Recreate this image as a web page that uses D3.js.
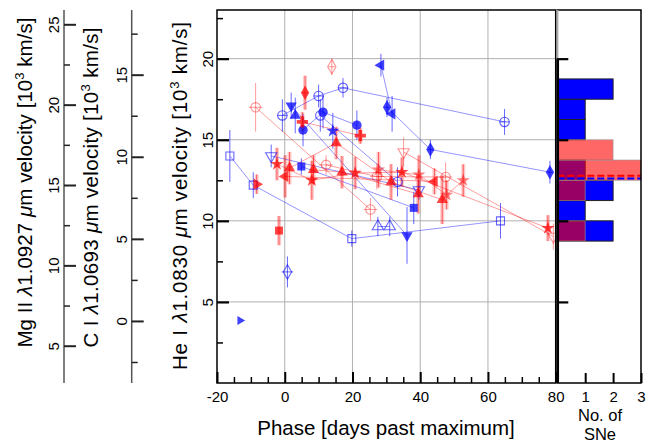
<!DOCTYPE html>
<html>
<head>
<meta charset="utf-8">
<script src="https://cdn.jsdelivr.net/npm/d3@7"></script>
<style>
body { margin: 0; background: #fff; }
text { font-family: "Liberation Sans", Arial, sans-serif; fill: #000; }
</style>
</head>
<body>
<svg id="chart" width="655" height="444"></svg>
<script>
// points are [phase, velocity, velocity error, phase error]
var bSquareOpen   = [[-16.2,14.0,1.6,0],[-9.3,12.2,0.8,0],[19.8,8.9,0.5,0],[63.7,10.0,1.1,0]];
var bCircleCross  = [[-0.7,16.5,1.0,1.5],[10.0,17.7,0.7,1.5],[17.2,18.2,0.6,1.5],[64.9,16.1,0.8,1.5]];
var bTriLeft      = [[28.4,19.6,0.7,0],[31.7,16.6,1.1,0]];
var bDiamond      = [[30.2,17.0,0.6,0.8],[43.0,14.4,0.6,0.8],[78.3,13.0,0.7,0.8]];
var bTriDown      = [[1.9,17.1,0.8,0],[36.1,9.1,1.75,0]];
var bTriUp        = [[3.1,16.5,1.1,0]];
var bCircleOpen   = [[10.5,16.5,1.0,0],[33.3,12.4,0.9,0]];
var bCircle       = [[5.4,15.6,1.0,0],[11.3,16.7,1.0,0],[21.3,15.9,0.9,0]];
var bStar         = [[14.2,15.55,1.1,0]];
var bTriDownOpen  = [[-4.0,14.0,0.7,0],[39.6,11.9,0.6,0]];
var bSquare       = [[4.9,13.35,0.5,0],[38.1,10.8,1.0,0]];
var bTriUpOpen    = [[27.5,9.65,0.6,0],[31.0,9.65,0.6,0]];
var bDiamondOpen  = [[0.8,6.85,0.95,1.7]];
var bTriRight     = [[-13.2,3.85,0,0]];

var rStar         = [[-2.3,13.5,1.0,0],[8.0,12.5,1.2,0],[20.8,12.95,1.0,0],[34.6,13.0,0.9,0],[77.7,9.55,0.8,0]];
var rStar2        = [[27.7,13.15,1.1,0],[39.6,12.84,1.2,0],[47.8,11.6,0.9,0],[52.7,12.49,1.0,0]];
var rTriUp        = [[1.4,13.25,1.0,0],[15.2,14.8,1.0,0],[31.4,12.4,1.1,0],[46.5,11.3,1.5,0]];
var rTriUp2       = [[8.5,13.15,0.9,0],[16.9,13.0,1.0,0],[39.4,11.65,1.2,0]];
var rTriLeft      = [[0.1,12.74,1.3,0],[44.2,12.43,0.8,0]];
var rTriRight     = [[-8.3,12.26,0.6,0]];
var rCircleCross  = [[-8.6,17.0,1.5,2],[25.3,10.7,0.7,2]];
var rCircleOpen   = [[12.2,13.45,0.6,2],[27.2,12.73,0.8,2],[47.5,12.7,0.9,2]];
var rTriDownOpen  = [[35.1,14.24,0.9,0],[79.3,9.03,0.8,0]];
var rSquare       = [[-1.7,9.4,0.9,0]];
var rDiamond      = [[6.0,17.9,1.05,1.0]];
var rDiamondOpen  = [[13.9,19.5,0.5,1.0]];
var rPlus         = [[5.2,16.1,0.6,0],[22.3,15.25,0.5,0]];

// histogram of velocities (bins in 10^3 km/s)
var binEdges   = [8.75,10,11.25,12.5,13.75,15,16.25,17.5,18.75];
var blueCounts = [2,1,2,1,0,1,1,2];
var redCounts  = [1,0,1,3,2,0,0,0];
var blueMean = 12.61, redMean = 12.78;

var phaseTicks = [-20,0,20,40,60,80];
var heTicks = [5,10,15,20];
var cTicks = [0,5,10,15];
var mgTicks = [5,10,15,20,25];
var histTicks = [1,2,3];

var series = [
  {pts: bSquareOpen,  c: "b", sym: "square",  open: true},
  {pts: bCircleCross, c: "b", sym: "circle",  open: true},
  {pts: bTriLeft,     c: "b", sym: "triLeft"},
  {pts: bDiamond,     c: "b", sym: "diamond"},
  {pts: bTriDown,     c: "b", sym: "triDown"},
  {pts: bTriUp,       c: "b", sym: "triUp"},
  {pts: bCircleOpen,  c: "b", sym: "circle",  open: true},
  {pts: bCircle,      c: "b", sym: "circle"},
  {pts: bStar,        c: "b", sym: "star"},
  {pts: bTriDownOpen, c: "b", sym: "triDown", open: true},
  {pts: bSquare,      c: "b", sym: "square"},
  {pts: bTriUpOpen,   c: "b", sym: "triUp",   open: true},
  {pts: bDiamondOpen, c: "b", sym: "diamond", open: true},
  {pts: bTriRight,    c: "b", sym: "triRight", small: true},
  {pts: rStar,        c: "r", sym: "star"},
  {pts: rStar2,       c: "r", sym: "star", light: true},
  {pts: rTriUp,       c: "r", sym: "triUp"},
  {pts: rTriUp2,      c: "r", sym: "triUp"},
  {pts: rTriLeft,     c: "r", sym: "triLeft"},
  {pts: rTriRight,    c: "r", sym: "triRight"},
  {pts: rCircleCross, c: "r", sym: "circle",  open: true},
  {pts: rCircleOpen,  c: "r", sym: "circle",  open: true},
  {pts: rTriDownOpen, c: "r", sym: "triDown", open: true},
  {pts: rSquare,      c: "r", sym: "square"},
  {pts: rDiamond,     c: "r", sym: "diamond"},
  {pts: rDiamondOpen, c: "r", sym: "diamond", open: true},
  {pts: rPlus,        c: "r", sym: "plus"}
];

var svg = d3.select("#chart");

var x = d3.scaleLinear().domain([-20, 80]).range([217, 555.7]);
var y = d3.scaleLinear().domain([0, 23]).range([383, 10]);
var yMg = d3.scaleLinear().domain([2.68, 25.89]).range([383, 10]);
var yC = d3.scaleLinear().domain([-3.78, 18.94]).range([383, 10]);
var xh = d3.scaleLinear().domain([0, 3]).range([557.3, 641]);

var plainFmt = function(d) { return String(d); };   // hyphen minus like the original

function minor(lo, hi, step, skip) {
  var out = [];
  for (var v = lo; v <= hi + 1e-9; v += step) {
    if (skip.indexOf(v) < 0) out.push(v);
  }
  return out;
}

// grid
var grid = svg.append("g").attr("stroke", "#b0b0b0").attr("stroke-width", 1);
[0, 20, 40, 60].forEach(function(d) {
  grid.append("line").attr("x1", x(d)).attr("x2", x(d)).attr("y1", 10).attr("y2", 383);
});
heTicks.forEach(function(d) {
  grid.append("line").attr("x1", 217).attr("x2", 555.7).attr("y1", y(d)).attr("y2", y(d));
});

// connecting lines
var plot = svg.append("g");
var line = d3.line().x(function(d) { return x(d[0]); }).y(function(d) { return y(d[1]); });
series.forEach(function(s) {
  if (s.pts.length < 2) return;
  plot.append("path").attr("d", line(s.pts)).attr("fill", "none")
    .attr("stroke", s.c == "b" ? "rgba(0,0,255,0.42)" : "rgba(255,0,0,0.38)")
    .attr("stroke-width", 1);
});

// error bars
series.forEach(function(s) {
  s.pts.forEach(function(p) {
    if (s.c == "r" && !s.open) {
      plot.append("line").attr("x1", x(p[0])).attr("x2", x(p[0]))
        .attr("y1", y(p[1] - p[2])).attr("y2", y(p[1] + p[2]))
        .attr("stroke", "rgba(255,0,0,0.22)").attr("stroke-width", 4);
    }
    var col = s.c == "b" ? "rgba(0,0,255,0.6)" : (s.open ? "rgba(255,0,0,0.4)" : "rgba(255,0,0,0.55)");
    if (p[2] > 0) {
      plot.append("line").attr("x1", x(p[0])).attr("x2", x(p[0]))
        .attr("y1", y(p[1] - p[2])).attr("y2", y(p[1] + p[2]))
        .attr("stroke", col).attr("stroke-width", 1);
    }
    if (p[3] > 0) {
      plot.append("line").attr("x1", x(p[0] - p[3])).attr("x2", x(p[0] + p[3]))
        .attr("y1", y(p[1])).attr("y2", y(p[1]))
        .attr("stroke", col).attr("stroke-width", 1);
    }
  });
});

// markers
var symTypes = {
  square: [d3.symbolSquare, 0, 64], circle: [d3.symbolCircle, 0, 70],
  diamond: [d3.symbolDiamond, 0, 60], triUp: [d3.symbolTriangle, 0, 55],
  triDown: [d3.symbolTriangle, 180, 55], triLeft: [d3.symbolTriangle, -90, 55],
  triRight: [d3.symbolTriangle, 90, 55], star: [d3.symbolStar, 0, 55],
  plus: [d3.symbolCross, 0, 70]
};
series.forEach(function(s) {
  var t = symTypes[s.sym];
  var sym = d3.symbol().type(t[0]).size(s.small ? 35 : t[2]);
  var rgb = s.c == "b" ? "0,0,255" : "255,0,0";
  plot.selectAll(null).data(s.pts).enter().append("path")
    .attr("d", sym)
    .attr("transform", function(p) { return "translate(" + x(p[0]) + "," + y(p[1]) + ") rotate(" + t[1] + ")"; })
    .attr("fill", s.open ? "none" : "rgba(" + rgb + "," + (s.light ? 0.5 : (s.c == "b" ? 0.75 : 0.72)) + ")")
    .attr("stroke", s.open ? "rgba(" + rgb + "," + (s.c == "b" ? 0.6 : 0.42) + ")" : "none")
    .attr("stroke-width", 1.1);
});

// main frame
svg.append("rect").attr("x", 217).attr("y", 10).attr("width", 555.7 - 217).attr("height", 373)
  .attr("fill", "none").attr("stroke", "#000").attr("stroke-width", 1.5);

// He axis (left of main)
function styleAxis(g, col, w) {
  g.select(".domain").remove();
  g.selectAll(".tick line").attr("stroke", col).attr("stroke-width", w);
}
function rotLabels(g, off) {
  g.selectAll(".tick text").attr("x", null).attr("dy", null)
    .attr("text-anchor", "middle").attr("font-size", 15)
    .attr("transform", "translate(" + off + ",0) rotate(-90)");
}
var gHe = svg.append("g").attr("transform", "translate(217,0)")
  .call(d3.axisLeft(y).tickValues(heTicks).tickSize(-12).tickFormat(plainFmt));
styleAxis(gHe, "#000", 2.2); rotLabels(gHe, -4);
var gHeM = svg.append("g").attr("transform", "translate(217,0)")
  .call(d3.axisLeft(y).tickValues(minor(2.5, 22.5, 5, [])).tickSize(-6).tickFormat(""));
styleAxis(gHeM, "#000", 1.5);

// bottom axis
var gX = svg.append("g").attr("transform", "translate(0,383)")
  .call(d3.axisBottom(x).tickValues(phaseTicks).tickSize(-11).tickPadding(4).tickFormat(plainFmt));
styleAxis(gX, "#000", 2);
gX.selectAll(".tick text").attr("font-size", 15).attr("y", 18.5).attr("dy", null);
var gXM = svg.append("g").attr("transform", "translate(0,383)")
  .call(d3.axisBottom(x).tickValues(minor(-15, 75, 5, [0, 20, 40, 60])).tickSize(-6).tickFormat(""));
styleAxis(gXM, "#000", 1.5);

// Mg II and C I parasite axes
function sideAxis(xpos, scale, ticks, minors) {
  svg.append("line").attr("x1", xpos).attr("x2", xpos).attr("y1", 10).attr("y2", 383)
    .attr("stroke", "#555").attr("stroke-width", 1.5);
  var g = svg.append("g").attr("transform", "translate(" + xpos + ",0)")
    .call(d3.axisLeft(scale).tickValues(ticks).tickSize(-12).tickFormat(plainFmt));
  styleAxis(g, "#222", 2); rotLabels(g, -5);
  var gm = svg.append("g").attr("transform", "translate(" + xpos + ",0)")
    .call(d3.axisLeft(scale).tickValues(minors).tickSize(-6).tickFormat(""));
  styleAxis(gm, "#222", 1.5);
}
sideAxis(64, yMg, mgTicks, [7.5, 12.5, 17.5, 22.5]);
sideAxis(131.7, yC, cTicks, [-2.5, 2.5, 7.5, 12.5, 17.5]);

// axis titles
function vTitle(xb, yc, pre, lam, len) {
  var t = svg.append("text").attr("transform", "translate(" + xb + "," + yc + ") rotate(-90)")
    .attr("text-anchor", "middle").attr("font-size", 20.5).attr("textLength", len)
    .attr("lengthAdjust", "spacing");
  t.append("tspan").text(pre + " ");
  t.append("tspan").attr("font-style", "italic").text("λ");
  t.append("tspan").text(lam + " ");
  t.append("tspan").attr("font-style", "italic").text("μ");
  t.append("tspan").text("m velocity [10");
  t.append("tspan").attr("font-size", 13).attr("dy", -8).text("3");
  t.append("tspan").attr("dy", 8).text(" km/s]");
}
vTitle(32, 182.5, "Mg II", "1.0927", 330);
vTitle(98, 187.5, "C I", "1.0693", 320);
vTitle(187, 196, "He I", "1.0830", 348);

svg.append("text").attr("x", 386).attr("y", 435).attr("text-anchor", "middle")
  .attr("font-size", 20.5).text("Phase [days past maximum]");

// histogram panel
var hist = svg.append("g");
var bins = blueCounts.map(function(c, i) { return {lo: binEdges[i], hi: binEdges[i + 1], b: c, r: redCounts[i]}; });
hist.selectAll(".bb").data(bins.filter(function(d) { return d.b > 0; })).enter().append("rect")
  .attr("x", xh(0)).attr("y", function(d) { return y(d.hi); })
  .attr("width", function(d) { return xh(d.b) - xh(0); })
  .attr("height", function(d) { return y(d.lo) - y(d.hi); })
  .attr("fill", "#0000ff").attr("stroke", "#222").attr("stroke-width", 1);
hist.selectAll(".rb").data(bins.filter(function(d) { return d.r > 0; })).enter().append("rect")
  .attr("x", xh(0)).attr("y", function(d) { return y(d.hi); })
  .attr("width", function(d) { return xh(d.r) - xh(0); })
  .attr("height", function(d) { return y(d.lo) - y(d.hi); })
  .attr("fill", "rgba(255,0,0,0.6)").attr("stroke", "rgba(150,150,150,0.6)").attr("stroke-width", 1);
hist.append("line").attr("x1", xh(0)).attr("x2", xh(3)).attr("y1", y(redMean)).attr("y2", y(redMean))
  .attr("stroke", "#ff0000").attr("stroke-width", 2).attr("stroke-dasharray", "7,3");
hist.append("line").attr("x1", xh(0)).attr("x2", xh(3)).attr("y1", y(blueMean)).attr("y2", y(blueMean))
  .attr("stroke", "#0000ff").attr("stroke-width", 2).attr("stroke-dasharray", "7,3");

hist.append("rect").attr("x", 557.3).attr("y", 10).attr("width", 641 - 557.3).attr("height", 373)
  .attr("fill", "none").attr("stroke", "#000").attr("stroke-width", 1.5);
hist.append("line").attr("x1", 557.3).attr("x2", 557.3).attr("y1", 10).attr("y2", y(20))
  .attr("stroke", "#aaa").attr("stroke-width", 2);
hist.append("line").attr("x1", 557.8).attr("x2", 557.8).attr("y1", y(20)).attr("y2", 383)
  .attr("stroke", "#000").attr("stroke-width", 2.5);

var gHy = svg.append("g").attr("transform", "translate(557.3,0)")
  .call(d3.axisLeft(y).tickValues(heTicks).tickSize(-11).tickFormat(""));
styleAxis(gHy, "#000", 2.2);
var gHx = svg.append("g").attr("transform", "translate(0,383)")
  .call(d3.axisBottom(xh).tickValues(histTicks).tickSize(-10).tickFormat(plainFmt));
styleAxis(gHx, "#000", 2);
gHx.selectAll(".tick text").attr("font-size", 15).attr("y", 18.5).attr("dy", null);

svg.append("text").attr("x", 600).attr("y", 420.5).attr("text-anchor", "middle")
  .attr("font-size", 16.5).text("No. of");
svg.append("text").attr("x", 600).attr("y", 439.5).attr("text-anchor", "middle")
  .attr("font-size", 16.5).text("SNe");
</script>
</body>
</html>
